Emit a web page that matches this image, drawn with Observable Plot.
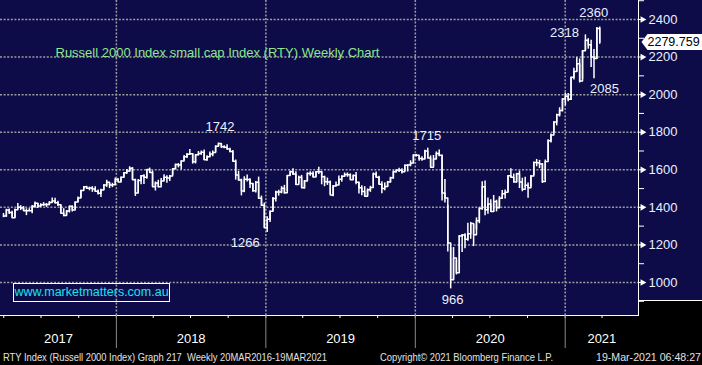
<!DOCTYPE html>
<html><head><meta charset="utf-8">
<script src="https://cdn.jsdelivr.net/npm/d3@7"></script>
<script src="https://cdn.jsdelivr.net/npm/@observablehq/plot@0.6"></script>
<style>
html,body{margin:0;padding:0;background:#000;}
#wrap{position:relative;width:702px;height:365px;overflow:hidden;background:#000;font-family:"Liberation Sans",Arial,sans-serif;}
#bgPlot{position:absolute;left:0;top:0;width:638px;height:315px;background:#0e0c48;}
#bgAxis{position:absolute;left:638px;top:0;width:64px;height:300px;background:#0e0c48;border-bottom:1px solid #fff;}
#chart{position:absolute;left:0;top:0;}
#site{position:absolute;left:13px;top:283px;width:155px;height:17px;border:1px solid #fff;color:#19e3f0;font-size:12.5px;line-height:17px;text-align:center;white-space:nowrap;}
.foot{position:absolute;top:351px;font-size:11px;color:#e2e2e2;white-space:nowrap;transform-origin:left center;line-height:13px;}
</style></head>
<body>
<div id="wrap">
  <div id="bgPlot"></div>
  <div id="bgAxis"></div>
  <div id="chart"></div>
  <div id="site">www.marketmatters.com.au</div>
  <span class="foot" id="f1">RTY Index (Russell 2000 Index) Graph 217&nbsp; Weekly 20MAR2016-19MAR2021</span>
  <span class="foot" id="f2">Copyright© 2021 Bloomberg Finance L.P.</span>
  <span class="foot" id="f3">19-Mar-2021 06:48:27</span>
</div>
<script>
// ---- data (weekly bars, week ending Friday, starting 24-Mar-2017) ----
const firstWeek = "2017-03-24";
const close = [
1354,1386,1373,1345,1387,1400,1397,1382,1382,1382,1406,1422,1407,1414,1415,1415,1426,1434,1425,1414,1369,1357,1380,1406,1386,1428,1450,1490,1510,1502,1503,1498,1486,1475,1493,1519,1533,1519,1520,1549,1535,
1560,1584,1593,1608,1547,1477,1543,1568,1560,1601,1585,1510,1530,1510,1540,1560,1556,1567,1606,1628,1626,1647,1670,1683,1685,1643,1680,1687,1693,1653,1670,1684,1692,1725,1740,1722,1720,1710,1697,1645,1572,1546,1487,1549,1548,1527,1488,1533,1448,1411,1292,1337,
1379,1447,1482,1482,1502,1478,1569,1590,1578,1522,1560,1505,1540,1580,1580,1561,1590,1590,1563,1536,1535,1466,1514,1519,1550,1566,1575,1573,1547,1570,1533,1504,1484,1459,1494,1506,1578,1560,1523,1501,1511,1535,1558,1590,1598,1597,1590,1624,1625,1636,1679,1678,
1660,1657,1700,1663,1614,1657,1687,1678,1476,1450,1210,1014,1131,1052,1247,1253,1230,1260,1314,1254,1329,1394,1509,1387,1418,1378,1431,1398,1449,1473,1480,1568,1560,1535,1579,1535,1497,1517,1505,1567,1639,1637,1631,1538,1644,1755,1785,1855,1893,1915,1977,1992,1975,
2092,2123,2165,2073,2233,2289,2266,2201,2192,2352,2280];
const high = [
1367,1390,1391,1379,1391,1420,1409,1404,1392,1393,1410,1429,1420,1419,1425,1420,1431,1450,1449,1432,1413,1393,1383,1407,1407,1429,1455,1491,1511,1512,1508,1510,1510,1493,1497,1520,1544,1530,1528,1556,1552,
1562,1586,1601,1616,1612,1550,1548,1569,1574,1602,1609,1594,1535,1544,1554,1574,1568,1570,1607,1630,1633,1648,1676,1687,1708,1685,1681,1697,1700,1705,1675,1694,1700,1727,1742,1737,1728,1733,1715,1702,1652,1591,1550,1563,1572,1552,1527,1537,1561,1460,1423,1350,
1380,1452,1486,1491,1510,1517,1570,1593,1606,1590,1566,1570,1543,1584,1590,1590,1591,1614,1590,1566,1556,1540,1516,1535,1567,1568,1583,1583,1578,1572,1586,1533,1515,1510,1498,1512,1583,1588,1566,1536,1530,1538,1560,1594,1600,1608,1606,1626,1627,1648,1680,1682,
1670,1670,1704,1715,1674,1676,1695,1705,1678,1548,1410,1185,1186,1118,1250,1256,1260,1316,1320,1310,1344,1398,1536,1540,1450,1440,1463,1438,1457,1490,1492,1570,1605,1577,1581,1593,1555,1560,1529,1569,1642,1655,1650,1633,1652,1760,1790,1856,1896,1930,1979,2009,2006,
2093,2140,2196,2190,2234,2318,2298,2290,2240,2358,2360];
const low = [
1345,1347,1362,1344,1345,1390,1383,1380,1356,1377,1366,1395,1394,1400,1405,1400,1409,1426,1418,1405,1366,1350,1356,1370,1375,1388,1428,1449,1491,1495,1488,1480,1480,1466,1452,1491,1506,1500,1505,1522,1532,
1536,1556,1575,1587,1545,1458,1478,1520,1522,1549,1582,1510,1487,1504,1517,1540,1528,1537,1570,1600,1610,1600,1648,1660,1678,1630,1631,1674,1677,1650,1645,1665,1670,1693,1723,1714,1712,1705,1690,1643,1545,1540,1461,1478,1535,1500,1480,1476,1443,1405,1290,1266,
1320,1376,1429,1460,1472,1470,1485,1569,1569,1516,1524,1505,1497,1540,1566,1557,1560,1575,1520,1510,1517,1466,1456,1510,1519,1534,1561,1560,1546,1546,1520,1471,1462,1456,1459,1480,1509,1556,1520,1473,1488,1507,1530,1550,1583,1585,1577,1591,1588,1616,1632,1668,
1645,1646,1656,1660,1610,1617,1656,1670,1434,1423,1162,966,1013,1040,1060,1160,1180,1220,1230,1191,1280,1313,1385,1355,1363,1375,1373,1376,1393,1443,1445,1480,1556,1530,1531,1500,1483,1507,1449,1508,1570,1616,1606,1527,1546,1650,1743,1795,1834,1881,1908,1940,1962,
1969,2078,2121,2062,2080,2233,2242,2145,2085,2188,2268];
const lastPrice = [2279.759];
const yTicks = [1000,1200,1400,1600,1800,2000,2200,2400];
const yMinorTicks = [900,1100,1300,1500,1700,1900,2100,2300,2500];
const years = [2017,2018,2019,2020,2021];
const annoLabels = ["1742","1266","1715","966","2318","2360","2085"];
const annoDates = ["2018-08-31","2018-12-28","2020-01-24","2020-03-20","2021-02-12","2021-03-19","2021-03-05"];
const titleText = "Russell 2000 Index small cap Index (RTY) Weekly Chart";

// ---- layout config ----
const xDomain = [new Date("2017-03-24"), new Date("2021-06-29")];
const yDomain = [824.3, 2501.1];
const annoOffsets = {"1742":[4.5,-16.6],"1266":[-19,10],"1715":[2,-12],"966":[5,10.5],"2318":[-18,-2.5],"2360":[-3,-14.5],"2085":[13.5,10]};

const start = new Date(firstWeek);
const weeks = close.map((c, i) => ({date: d3.utcDay.offset(start, 7 * i), close: c, high: high[i], low: low[i]}));
const yearStarts = years.slice(1).map(y => new Date(Date.UTC(y, 0, 1)));
const yearLabels = years.map(y => {
  const a = Math.max(+new Date(Date.UTC(y, 0, 1)), +xDomain[0]);
  const b = Math.min(+new Date(Date.UTC(y + 1, 0, 1)), +xDomain[1]);
  return {year: String(y), date: new Date((a + b) / 2)};
});
const annots = annoLabels.map((t, i) => ({label: t, date: new Date(annoDates[i]), value: +t}));

// price-tag shape (pointed left end), drawn as a custom dot symbol
const tagSymbol = {draw(ctx) { ctx.moveTo(0, 0); ctx.lineTo(6, -8); ctx.lineTo(70, -8); ctx.lineTo(70, 8); ctx.lineTo(6, 8); ctx.closePath(); }};

const grid = {stroke: "#9c9c9c", strokeOpacity: 1, strokeDasharray: "2,1.6", strokeWidth: 1.5};
const bright = "#e9efff";

const chart = Plot.plot({
  width: 702, height: 350,
  marginLeft: 0, marginRight: 64, marginTop: 0, marginBottom: 35,
  style: {background: "transparent", color: "white", fontFamily: "'Liberation Sans', Arial, sans-serif", fontSize: "13px"},
  x: {type: "utc", domain: xDomain, axis: null},
  y: {domain: yDomain, axis: null},
  marks: [
    Plot.gridY(yTicks, grid),
    Plot.gridX(yearStarts, grid),
    Plot.frame({anchor: "bottom", stroke: "white"}),
    Plot.frame({anchor: "right", stroke: "white"}),
    Plot.axisX({ticks: d3.utcMonth.every(3), tickSize: 3, fill: "none", stroke: "white"}),
    Plot.axisX({ticks: yearStarts, tickSize: 33, fill: "none", stroke: "#8a8a8a"}),
    Plot.text(yearLabels, {x: "date", text: "year", frameAnchor: "bottom", dy: 27, fill: "white", fontSize: 13}),
    Plot.axisY({anchor: "right", ticks: yMinorTicks, tickSize: 5, fill: "none", stroke: "white"}),
    Plot.axisY({anchor: "right", ticks: yTicks, tickSize: 3, tickPadding: 7, tickFormat: d => String(d), stroke: "white", fill: bright, fontSize: 13}),
    Plot.dot(yTicks, {y: d => d, frameAnchor: "right", symbol: "triangle", r: 2.5, fill: "white", rotate: 90, dx: 4}),
    Plot.ruleX(weeks, {x: "date", y1: "low", y2: "high", stroke: "white", strokeWidth: 1.5, dx: 3}),
    Plot.line(weeks, {x: "date", y: "close", curve: "step-after", stroke: "white", strokeWidth: 1.5, dx: 3}),
    ...annots.map(a => Plot.text([a], {x: "date", y: "value", text: "label", fill: bright, fontSize: 13, dx: annoOffsets[a.label][0], dy: annoOffsets[a.label][1]})),
    Plot.text([titleText], {text: d => d, frameAnchor: "top-left", textAnchor: "start", dx: 55, dy: 47, fill: "#8fe68f", fontSize: 13}),
    Plot.dot(lastPrice, {y: d => d, frameAnchor: "right", symbol: tagSymbol, fill: "white", stroke: "none", dx: 3}),
    Plot.text(lastPrice, {y: d => d, text: d => d.toFixed(3), frameAnchor: "right", textAnchor: "start", dx: 9, fill: "black", fontSize: 12.5})
  ]
});
document.getElementById("chart").appendChild(chart);

// footer fitting
function fit(id, left, width) {
  const el = document.getElementById(id);
  const w = el.getBoundingClientRect().width;
  el.style.left = left + "px";
  el.style.transform = `scaleX(${width / w})`;
}
fit("f1", 3, 324);
fit("f2", 380, 173);
fit("f3", 596, 105);
</script>
</body></html>
